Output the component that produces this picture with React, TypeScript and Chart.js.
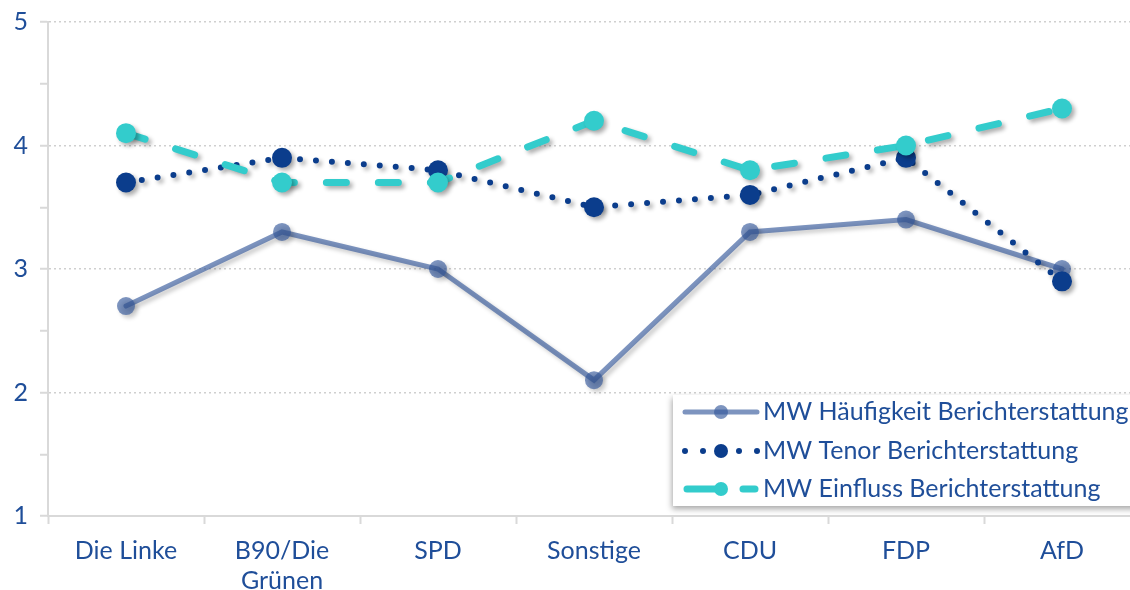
import React, { useEffect, useRef } from "react";
import { Chart, registerables } from "chart.js";

Chart.register(...registerables);

const categories: (string | string[])[] = ["Die Linke", ["B90/Die", "Grünen"], "SPD", "Sonstige", "CDU", "FDP", "AfD"];
const seriesNames = ["MW Häufigkeit Berichterstattung", "MW Tenor Berichterstattung", "MW Einfluss Berichterstattung"];
const haeufigkeit = [2.7, 3.3, 3.0, 2.1, 3.3, 3.4, 3.0];
const tenor = [3.7, 3.9, 3.8, 3.5, 3.6, 3.9, 2.9];
const einfluss = [4.1, 3.7, 3.7, 4.2, 3.8, 4.0, 4.3];
const yMin = 1;
const yMax = 5;

const TEXT = "#1F4E99";
const AXIS = "#d9d9d9";
const FONT = "Lato";
const FONT_SIZE = 25;

const shadowPlugin = {
  id: "lineShadow",
  beforeDatasetsDraw(chart: any) {
    const ctx = chart.ctx;
    ctx.save();
    ctx.shadowColor = "rgba(0,0,0,0.32)";
    ctx.shadowBlur = 4;
    ctx.shadowOffsetX = 3;
    ctx.shadowOffsetY = 3;
  },
  afterDatasetsDraw(chart: any) {
    chart.ctx.restore();
  },
};

const legendPlugin = {
  id: "insideLegend",
  afterDraw(chart: any) {
    const ctx = chart.ctx;
    const area = chart.chartArea;
    const bx = area.right - 467;
    const by = area.bottom - 121;
    ctx.save();
    ctx.shadowColor = "rgba(0,0,0,0.35)";
    ctx.shadowBlur = 6;
    ctx.shadowOffsetX = -1;
    ctx.shadowOffsetY = 3;
    ctx.fillStyle = "#ffffff";
    ctx.fillRect(bx, by, 480, 111);
    ctx.restore();

    const order = [0, 1, 2];
    const rowOffsets = [104, 65, 27];
    order.forEach((di, i) => {
      const ds = chart.data.datasets[di];
      const y = area.bottom - rowOffsets[i];
      const x0 = bx + 12;
      const x1 = bx + 84;
      const cx = (x0 + x1) / 2;
      ctx.save();
      ctx.strokeStyle = ds.borderColor;
      ctx.lineWidth = ds.borderWidth;
      ctx.lineCap = ds.borderCapStyle || "butt";
      if (di === 0) {
        ctx.setLineDash([]);
        ctx.beginPath();
        ctx.moveTo(x0, y);
        ctx.lineTo(x1, y);
        ctx.stroke();
      } else if (di === 1) {
        ctx.fillStyle = ds.borderColor;
        [x0, x0 + 18, x1 - 18, x1].forEach((x) => {
          ctx.beginPath();
          ctx.arc(x, y, ds.borderWidth / 2, 0, Math.PI * 2);
          ctx.fill();
        });
      } else {
        ctx.setLineDash([]);
        ctx.beginPath();
        ctx.moveTo(x0 + 2, y);
        ctx.lineTo(cx, y);
        ctx.moveTo(x1 - 14, y);
        ctx.lineTo(x1 - 2, y);
        ctx.stroke();
      }
      ctx.fillStyle = ds.pointBackgroundColor;
      ctx.beginPath();
      ctx.arc(cx, y, 7, 0, Math.PI * 2);
      ctx.fill();
      ctx.fillStyle = TEXT;
      ctx.font = `${FONT_SIZE}px ${FONT}`;
      ctx.textBaseline = "middle";
      ctx.textAlign = "left";
      ctx.fillText(ds.label, x1 + 6, y);
      ctx.restore();
    });
  },
};

export default function App() {
  const ref = useRef<HTMLCanvasElement | null>(null);

  useEffect(() => {
    if (!ref.current) return;
    const chart = new Chart(ref.current, {
      type: "line",
      data: {
        labels: categories as any,
        datasets: [
          {
            label: seriesNames[0],
            data: haeufigkeit,
            borderColor: "rgba(52,88,155,0.64)",
            backgroundColor: "rgba(52,88,155,0.64)",
            pointBackgroundColor: "rgba(52,88,155,0.64)",
            pointBorderWidth: 0,
            borderWidth: 5,
            pointRadius: 9,
            borderCapStyle: "round",
            order: 2,
          } as any,
          {
            label: seriesNames[1],
            data: tenor,
            borderColor: "#0B3D8C",
            backgroundColor: "#0B3D8C",
            pointBackgroundColor: "#0B3D8C",
            pointBorderWidth: 0,
            borderWidth: 6,
            borderDash: [0, 16],
            borderCapStyle: "round",
            pointRadius: 10,
            order: 1,
          } as any,
          {
            label: seriesNames[2],
            data: einfluss,
            borderColor: "#33CCCC",
            backgroundColor: "#33CCCC",
            pointBackgroundColor: "#33CCCC",
            pointBorderWidth: 0,
            borderWidth: 7,
            borderDash: [20, 32],
            borderCapStyle: "round",
            pointRadius: 10,
            order: 0,
          } as any,
        ],
      },
      options: {
        animation: false,
        responsive: false,
        layout: { padding: { top: 22, left: 0, right: 0, bottom: 0 } },
        plugins: {
          legend: { display: false },
          tooltip: { enabled: false },
        },
        scales: {
          x: {
            offset: true,
            grid: {
              offset: true,
              drawOnChartArea: false,
              tickLength: 8,
              tickColor: AXIS,
              tickWidth: 2,
            },
            border: { color: AXIS, width: 2 },
            ticks: {
              color: TEXT,
              font: { family: FONT, size: FONT_SIZE, lineHeight: 1.2 },
              padding: 12,
              maxRotation: 0,
              autoSkip: false,
            },
            afterFit(scale: any) {
              scale.height = 74;
            },
          },
          y: {
            min: yMin,
            max: yMax,
            grid: {
              color: (c: any) => (c.tick && Number.isInteger(c.tick.value) ? "#cfcfcf" : "rgba(0,0,0,0)"),
              lineWidth: 1.5,
              tickLength: 8,
              tickColor: AXIS,
              tickWidth: 2,
            },
            border: { color: AXIS, width: 2, dash: [2, 3] },
            ticks: {
              stepSize: 0.5,
              color: TEXT,
              font: { family: FONT, size: FONT_SIZE, lineHeight: 0.6 },
              padding: 12,
              callback: (v: any) => (Number.isInteger(v) ? String(v) : ""),
            },
            afterFit(scale: any) {
              scale.width = 48;
            },
          },
        },
      } as any,
      plugins: [shadowPlugin, legendPlugin],
    });
    return () => chart.destroy();
  }, []);

  return (
    <div style={{ position: "absolute", left: 0, top: 0, width: 1130, height: 590, overflow: "hidden", background: "#fff" }}>
      <canvas ref={ref} width={1150} height={590} style={{ display: "block" }} />
    </div>
  );
}
